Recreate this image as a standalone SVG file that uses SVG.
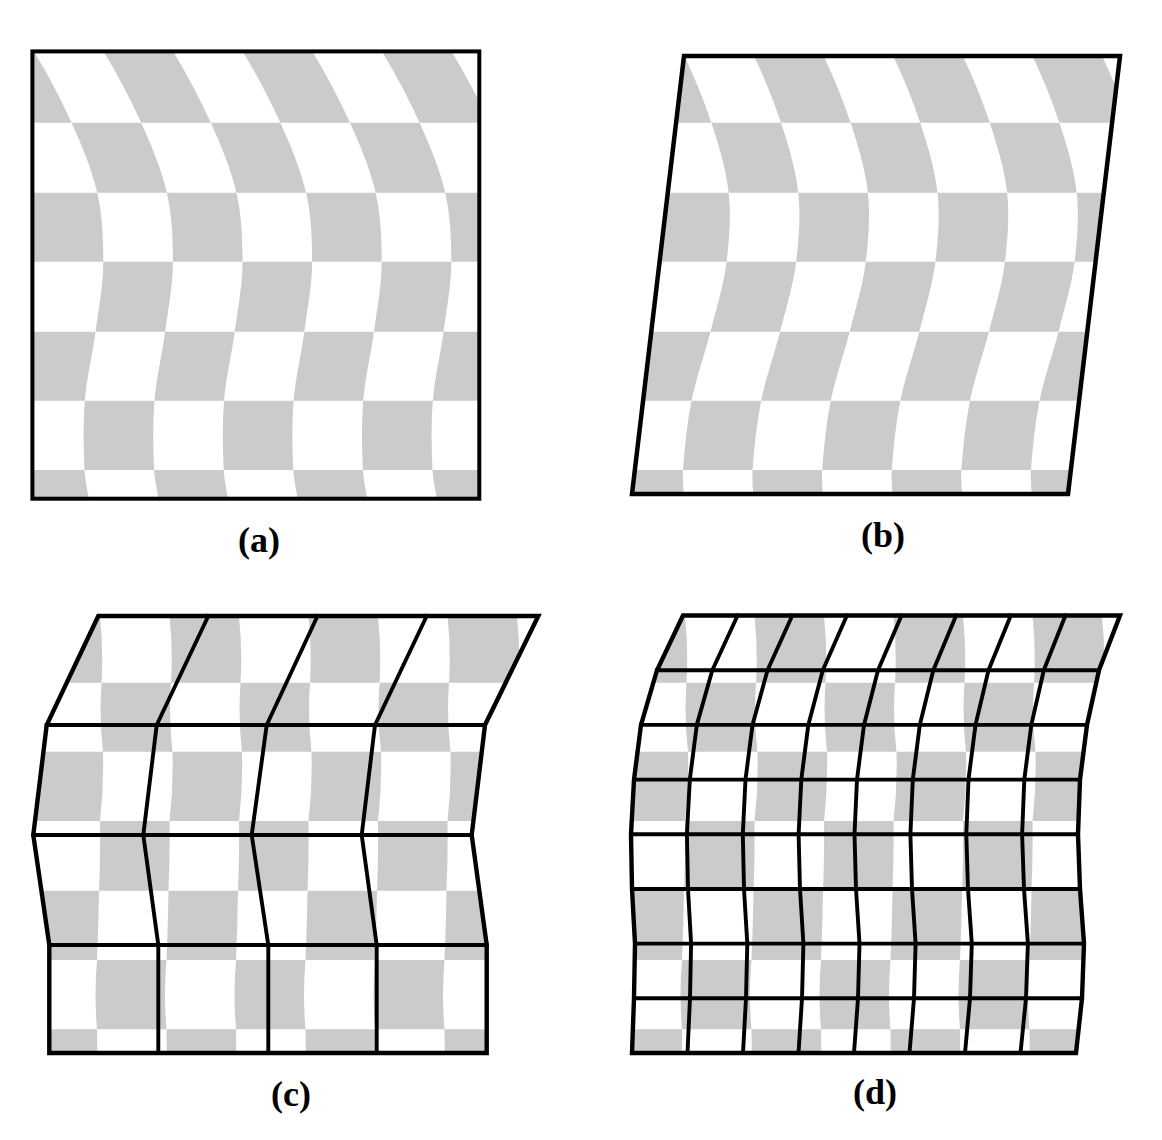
<svg xmlns="http://www.w3.org/2000/svg" width="1162" height="1140" viewBox="0 0 1162 1140">
<style>
.g{fill:#cbcbce}
.frame{fill:none;stroke:#000;stroke-width:4;stroke-linejoin:miter}
.mesh{fill:none;stroke:#000;stroke-width:3.9;stroke-linejoin:round;stroke-linecap:square}
.lbl{font-family:"Liberation Serif","Times New Roman",serif;font-weight:bold;font-size:36px;text-anchor:middle;fill:#000}
</style>
<defs>
<path id="sA" class="g" d="M30,45 C46.1,71 60,97 71.7,123 C82.2,146.3 92,169.7 97.3,193 C102.5,216 103.3,239 103.3,262 C103.3,285.3 98.6,308.7 95.5,332 C92.4,355 86.6,378 84.8,401 C83,424 83.4,447 84.5,470 C85.1,481.7 88.2,493.3 90,505 L159.6,505 C157.8,493.3 154.7,481.7 154.1,470 C153,447 152.6,424 154.4,401 C156.2,378 162,355 165.1,332 C168.2,308.7 172.9,285.3 172.9,262 C172.9,239 172.1,216 166.9,193 C161.6,169.7 151.8,146.3 141.3,123 C129.6,97 115.7,71 99.6,45 Z"/>
<path id="sC" class="g" d="M100,600 L100,616 Q103.5,650 101.5,683 Q99,717 103,752 Q104,787 100,821 Q100.5,856 99,891 Q98.5,925 97,960 Q94,995 97,1029 L97.5,1070 L167,1070 L166.5,1029 Q163.5,995 166.5,960 Q168,925 168.5,891 Q170,856 169.5,821 Q173.5,787 172.5,752 Q168.5,717 171,683 Q173,650 169.5,616 L169.5,600 Z"/>
<clipPath id="cA"><rect x="32" y="51" width="447" height="448"/></clipPath>
<clipPath id="cB"><polygon points="684,56 1120,56 1068,494 632,494"/></clipPath>
<clipPath id="cC"><polygon points="98.3,616 538.3,616 485,725 471.7,835 486.7,945 486.7,1053 49.3,1053 49.3,945 33.3,835 46.7,725"/></clipPath>
<clipPath id="cD"><polygon points="683,615.5 1120,615.5 1099,670.2 1087,724.9 1080,779.6 1078,834.3 1080,889 1084,943.6 1082,998.3 1076,1053 632,1053 634,998.3 635,943.6 632,889 631,834.3 634,779.6 641,724.9 657,670.2"/></clipPath>
<clipPath id="eA"><rect x="-300" y="40" width="1000" height="82.7"/><rect x="-300" y="192.7" width="1000" height="69"/><rect x="-300" y="331.7" width="1000" height="69"/><rect x="-300" y="470" width="1000" height="40"/></clipPath>
<clipPath id="oA"><rect x="-300" y="122.7" width="1000" height="70"/><rect x="-300" y="261.7" width="1000" height="70"/><rect x="-300" y="400.7" width="1000" height="69.3"/></clipPath>
<clipPath id="eC"><rect x="-300" y="600" width="1000" height="82.7"/><rect x="-300" y="751.7" width="1000" height="69.3"/><rect x="-300" y="890.7" width="1000" height="69.3"/><rect x="-300" y="1029.3" width="1000" height="41"/></clipPath>
<clipPath id="oC"><rect x="-300" y="682.7" width="1000" height="69"/><rect x="-300" y="821" width="1000" height="69.7"/><rect x="-300" y="960" width="1000" height="69.3"/></clipPath>
<g id="patA">
<g clip-path="url(#eA)"><use href="#sA" x="-69.6"/><use href="#sA" x="69.6"/><use href="#sA" x="208.8"/><use href="#sA" x="348"/></g>
<g clip-path="url(#oA)"><use href="#sA"/><use href="#sA" x="139.2"/><use href="#sA" x="278.4"/><use href="#sA" x="417.6"/></g>
</g>
<g id="patC">
<g clip-path="url(#eC)"><use href="#sC" x="-69.5"/><use href="#sC" x="69.5"/><use href="#sC" x="208.5"/><use href="#sC" x="347.5"/></g>
<g clip-path="url(#oC)"><use href="#sC"/><use href="#sC" x="139"/><use href="#sC" x="278"/><use href="#sC" x="417"/></g>
</g>
</defs>

<g id="panel-a">
<g clip-path="url(#cA)"><use href="#patA"/></g>
<rect class="frame" x="32.4" y="51.4" width="446.9" height="447.3"/>
<text class="lbl" x="259" y="552">(a)</text>
</g>

<g id="panel-b">
<g clip-path="url(#cB)"><use href="#patA" transform="matrix(1,0,-0.119,1,654.4,0)"/></g>
<polygon class="frame" style="stroke-width:4.5" points="684,56 1120,56 1068,494 632,494"/>
<text class="lbl" x="883" y="547">(b)</text>
</g>

<g id="panel-c">
<g clip-path="url(#cC)"><use href="#patC"/></g>
<g id="mesh-c">
<polyline class="mesh" points="208.3,616 156.7,725 143.3,835 158.3,945 158.3,1053"/>
<polyline class="mesh" points="317.5,616 266.7,725 251.7,835 268.3,945 268.3,1053"/>
<polyline class="mesh" points="426.7,616 375,725 361.7,835 376.7,945 376.7,1053"/>
<line class="mesh" x1="46.7" y1="725" x2="485" y2="725"/>
<line class="mesh" x1="33.3" y1="835" x2="471.7" y2="835"/>
<line class="mesh" x1="49.3" y1="945" x2="486.7" y2="945"/>
<polygon class="mesh" style="stroke-width:4.4;stroke-linejoin:miter" points="98.3,616 538.3,616 485,725 471.7,835 486.7,945 486.7,1053 49.3,1053 49.3,945 33.3,835 46.7,725"/>
</g>
<text class="lbl" x="291" y="1106">(c)</text>
</g>

<g id="panel-d">
<g clip-path="url(#cD)"><use href="#patC" x="585"/></g>
<g id="mesh-d">
<polyline class="mesh" points="737.6,615.5 712.3,670.2 696.8,724.9 689.8,779.6 686.9,834.3 688,889 691.1,943.6 690,998.3 687.5,1053"/>
<polyline class="mesh" points="792.3,615.5 767.5,670.2 752.5,724.9 745.5,779.6 742.8,834.3 744,889 747.3,943.6 746,998.3 743,1053"/>
<polyline class="mesh" points="846.9,615.5 822.8,670.2 808.3,724.9 801.3,779.6 798.6,834.3 800,889 803.4,943.6 802,998.3 798.5,1053"/>
<polyline class="mesh" points="901.5,615.5 878,670.2 864,724.9 857,779.6 854.5,834.3 856,889 859.5,943.6 858,998.3 854,1053"/>
<polyline class="mesh" points="956.1,615.5 933.3,670.2 919.8,724.9 912.8,779.6 910.4,834.3 912,889 915.6,943.6 914,998.3 909.5,1053"/>
<polyline class="mesh" points="1010.8,615.5 988.5,670.2 975.5,724.9 968.5,779.6 966.3,834.3 968,889 971.8,943.6 970,998.3 965,1053"/>
<polyline class="mesh" points="1065.4,615.5 1043.8,670.2 1031.3,724.9 1024.3,779.6 1022.1,834.3 1024,889 1027.9,943.6 1026,998.3 1020.5,1053"/>
<line class="mesh" x1="657" y1="670.2" x2="1099" y2="670.2"/>
<line class="mesh" x1="641" y1="724.9" x2="1087" y2="724.9"/>
<line class="mesh" x1="634" y1="779.6" x2="1080" y2="779.6"/>
<line class="mesh" x1="631" y1="834.3" x2="1078" y2="834.3"/>
<line class="mesh" x1="632" y1="889" x2="1080" y2="889"/>
<line class="mesh" x1="635" y1="943.6" x2="1084" y2="943.6"/>
<line class="mesh" x1="634" y1="998.3" x2="1082" y2="998.3"/>
<polygon class="mesh" style="stroke-width:4.4;stroke-linejoin:miter" points="683,615.5 1120,615.5 1099,670.2 1087,724.9 1080,779.6 1078,834.3 1080,889 1084,943.6 1082,998.3 1076,1053 632,1053 634,998.3 635,943.6 632,889 631,834.3 634,779.6 641,724.9 657,670.2"/>
</g>
<text class="lbl" x="875" y="1104">(d)</text>
</g>
</svg>
